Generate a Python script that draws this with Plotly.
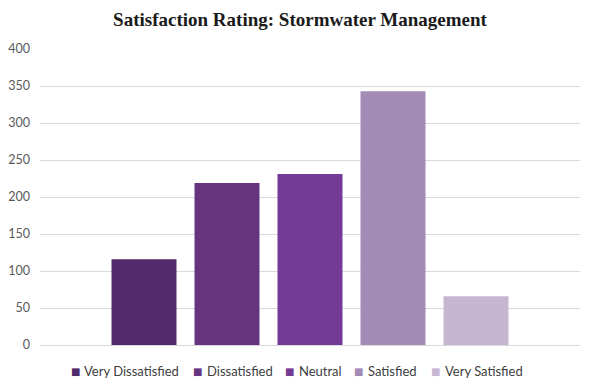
import plotly.graph_objects as go

series = ["Very Dissatisfied", "Dissatisfied", "Neutral", "Satisfied", "Very Satisfied"]
values = [116, 219, 231, 343, 66]
colors = ["#52296B", "#66337F", "#733A96", "#A28BB5", "#C6B6D1"]
category = ["Stormwater Management"]
y_ticks = [0, 50, 100, 150, 200, 250, 300, 350, 400]

# page body has an 8px default margin; figure is laid out relative to that
OFF = 8
W, H = 594 - OFF, 389 - OFF
L, R = 40 - OFF, 14
T = 49 - OFF
B = H - (345 - OFF)
pw, ph = W - L - R, H - T - B

# legend layout (pixel positions in the page of legend squares / labels)
legend_square_px = [75, 197, 289, 358, 435]
legend_label_px = [82, 205, 297, 366, 443]
legend_y_px = 371
title_y_px = 19.5

fig = go.Figure()
for name, v, c in zip(series, values, colors):
    fig.add_trace(go.Bar(x=category, y=[v], name=name, marker=dict(color=c, line=dict(width=0))))

ann = []
ly = ((345 - OFF) - (legend_y_px - OFF)) / ph
for name, c, sx, tx in zip(series, colors, legend_square_px, legend_label_px):
    ann.append(dict(text="■", x=(sx - OFF - L) / pw, y=ly, xref="paper", yref="paper",
                    xanchor="center", yanchor="middle", showarrow=False,
                    font=dict(family="DejaVu Sans", size=10, color=c)))
    ann.append(dict(text=name, x=(tx - OFF - L) / pw, y=ly, xref="paper", yref="paper",
                    xanchor="left", yanchor="middle", showarrow=False,
                    font=dict(family="Lato", size=13, color="#404040")))

fig.update_layout(
    width=W, height=H,
    paper_bgcolor="white", plot_bgcolor="white",
    barmode="group", bargap=0.2315, bargroupgap=0.217,
    margin=dict(l=L, r=R, t=T, b=B, autoexpand=False),
    title=dict(text="<b>Satisfaction Rating: Stormwater Management</b>",
               x=(300 - OFF) / W, xanchor="center", y=1 - (title_y_px - OFF) / H,
               yref="container", yanchor="middle",
               font=dict(family="Liberation Serif", size=19, color="#1a1a1a")),
    font=dict(family="Lato", color="#595959", size=12),
    showlegend=False,
    annotations=ann,
)
fig.update_xaxes(showticklabels=False, showline=False, showgrid=False, zeroline=False, automargin=False)
fig.update_yaxes(range=[0, 400], tickvals=y_ticks, showgrid=True, gridcolor="#D9D9D9",
                 gridwidth=1, zeroline=True, zerolinecolor="#D9D9D9", zerolinewidth=1,
                 showline=False, ticks="", ticklabelstandoff=9, automargin=False,
                 tickfont=dict(size=12.5, color="#595959"))

fig.write_html("out.html")
